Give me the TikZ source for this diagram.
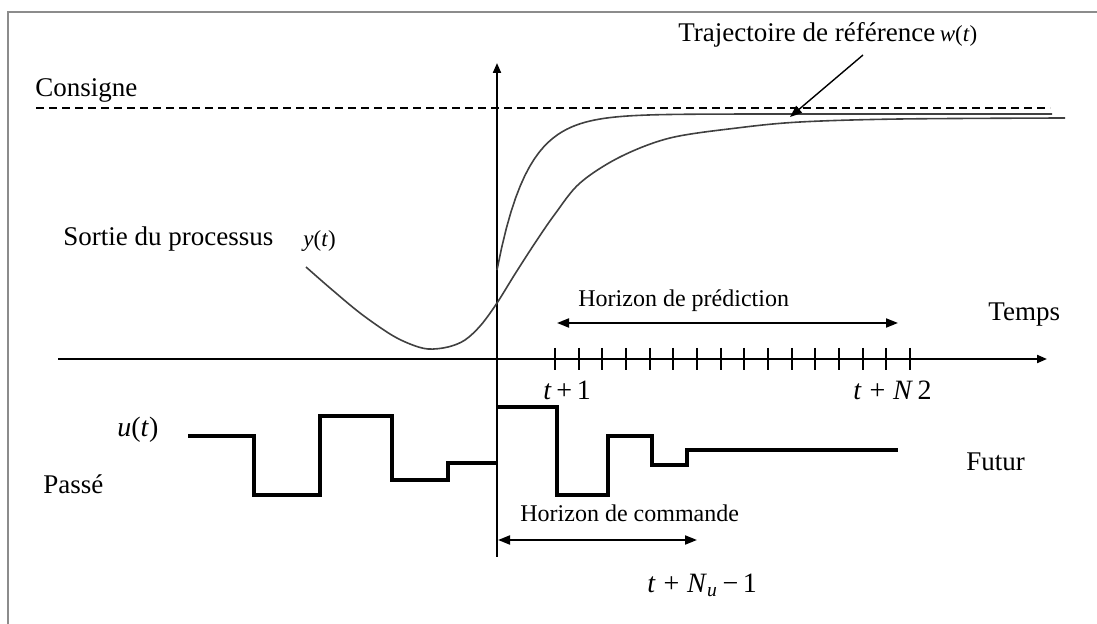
\documentclass[tikz,border=0pt]{standalone}
\usepackage{fontspec}
\setmainfont{Liberation Serif}
\usetikzlibrary{arrows.meta}

\begin{document}
\begin{tikzpicture}[
      x=0.5pt, y=-0.5pt,
      axis/.style={line width=1pt, -{Triangle[length=5pt, width=4pt]}},
      curve/.style={line width=0.8pt, black!75},
      signal/.style={line width=2.2pt, line join=miter},
      span/.style={line width=0.9pt, {Triangle[length=6pt, width=4.5pt]}-{Triangle[length=6pt, width=4.5pt]}},
      lbl/.style={inner sep=0pt, anchor=base west, font=\fontsize{13.5}{16}\selectfont},
      small/.style={inner sep=0pt, anchor=base west, font=\fontsize{11.5}{14}\selectfont},
      mathlbl/.style={inner sep=0pt, anchor=base west, font=\fontsize{14}{17}\selectfont},
      ]

      \useasboundingbox (0,0) rectangle (1097,624);
      % cadre
      \draw[black!45, line width=1pt] (7.5,624) -- (7.5,12.5) -- (1097,12.5);

      % axes
      \coordinate (xa) at (58,359);
      \coordinate (xb) at (1047,359);
      \coordinate (ya) at (497,557);
      \coordinate (yb) at (497,63);
      \draw[axis] (xa) -- (xb);
      \draw[axis] (ya) -- (yb);

      % consigne
      \coordinate (c0) at (36,108);
      \coordinate (c1) at (1050,108);
      \draw[line width=0.7pt, dash pattern=on 4pt off 2.5pt] (c0) -- (c1);
      \node[lbl] (consigne) at (35,97) {Consigne};

      % trajectoire de reference w(t)
      \draw[curve, domain=497:1052, samples=120] plot (\x, {114+156*exp(-(\x-497)/30)});

      % sortie du processus y(t)
      \draw[curve] plot[smooth, tension=0.55] coordinates {(306,267) (330,288) (360,313) (390,334) (410,344) (428,349) (448,347) (465,340) (481,325) (497,303) (515,274) (535,243) (555,214) (580,183) (620,157) (670,138) (737,128) (800,122) (900,119) (1065,118)};

      \node[lbl] (sortie) at (63,246) {Sortie du processus};
      \node[small] (yt) at (303,247) {\textit{y}(\textit{t})};

      \node[lbl] (traj) at (678,42) {Trajectoire de référence\,{\fontsize{11.5}{14}\selectfont\textit{w}(\textit{t})}};
      \coordinate (wtail) at (863,55);
      \coordinate (wtip) at (790,117);
      \draw[line width=0.7pt, -{Triangle[length=6pt, width=4.5pt]}] (wtail) -- (wtip);

      % graduations
      \foreach \i in {0,...,15}
        \draw[line width=0.9pt] ({555+23.67*\i},348) -- ++(0,22);

      \node[lbl] (temps) at (988,321) {Temps};
      \node[lbl] (futur) at (966,471) {Futur};
      \node[lbl] (passe) at (43,494) {Passé};

      % horizons
      \coordinate (p0) at (557,323);
      \coordinate (p1) at (898,323);
      \draw[span] (p0) -- (p1);
      \node[small, font=\fontsize{12}{14}\selectfont] (hpred) at (578,307) {Horizon de prédiction};

      \coordinate (h0) at (498,540);
      \coordinate (h1) at (697,540);
      \draw[span] (h0) -- (h1);
      \node[small, font=\fontsize{12}{14}\selectfont] (hcom) at (520,522) {Horizon de commande};

      \node[mathlbl] (t1) at (543,400) {\textit{t}\,+\,1};
      \node[mathlbl] (tn2) at (853,400) {\textit{t}\;+\;\textit{N}\,2};
      \node[mathlbl] (tnu) at (647,592) {\textit{t}\;+\;\textit{N}\textsubscript{\textit{u}}\,−\,1};
      \node[mathlbl] (ut) at (117,437) {\textit{u}(\textit{t})};

      % commande u(t)
      \draw[signal] (188,436) -| (254,495) -| (320,416) -| (392,480) -| (448,463) -- (497,463);
      \draw[signal] (497,407) -| (557,495) -| (608,436) -| (652,465) -| (687,450) -- (898,450);

    \end{tikzpicture}
\end{document}
